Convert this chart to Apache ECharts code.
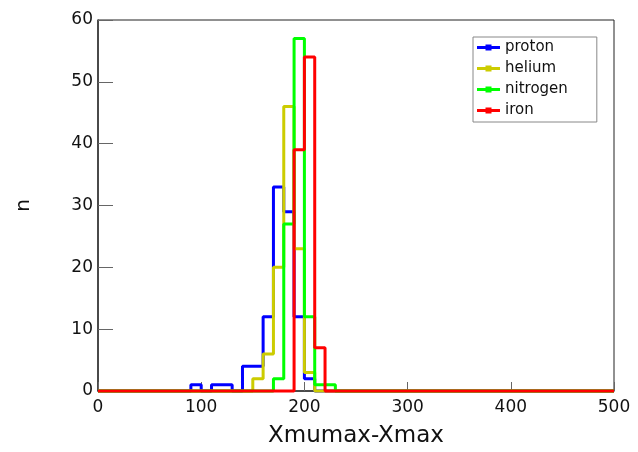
<!DOCTYPE html>
<html>
<head>
<meta charset="utf-8">
<style>
  html, body { margin: 0; padding: 0; background: #fff; }
  #chart { width: 638px; height: 452px; }
</style>
<script src="https://cdn.jsdelivr.net/npm/echarts@6/dist/echarts.min.js"></script>
</head>
<body>
<div id="chart"></div>
<script>
// Histogram binning: 50 bins of width 10 over [0, 500)
const binStart = 0;
const binWidth = 10;

// Entries per bin for each primary
const proton = [
  0, 0, 0, 0, 0, 0, 0, 0, 0, 1,
  0, 1, 1, 0, 4, 4, 12, 33, 29, 12,
  2, 0, 0, 0, 0, 0, 0, 0, 0, 0,
  0, 0, 0, 0, 0, 0, 0, 0, 0, 0,
  0, 0, 0, 0, 0, 0, 0, 0, 0, 0
];
const helium = [
  0, 0, 0, 0, 0, 0, 0, 0, 0, 0,
  0, 0, 0, 0, 0, 2, 6, 20, 46, 23,
  3, 0, 0, 0, 0, 0, 0, 0, 0, 0,
  0, 0, 0, 0, 0, 0, 0, 0, 0, 0,
  0, 0, 0, 0, 0, 0, 0, 0, 0, 0
];
const nitrogen = [
  0, 0, 0, 0, 0, 0, 0, 0, 0, 0,
  0, 0, 0, 0, 0, 0, 0, 2, 27, 57,
  12, 1, 1, 0, 0, 0, 0, 0, 0, 0,
  0, 0, 0, 0, 0, 0, 0, 0, 0, 0,
  0, 0, 0, 0, 0, 0, 0, 0, 0, 0
];
const iron = [
  0, 0, 0, 0, 0, 0, 0, 0, 0, 0,
  0, 0, 0, 0, 0, 0, 0, 0, 0, 39,
  54, 7, 0, 0, 0, 0, 0, 0, 0, 0,
  0, 0, 0, 0, 0, 0, 0, 0, 0, 0,
  0, 0, 0, 0, 0, 0, 0, 0, 0, 0
];

const seriesNames = ['proton', 'helium', 'nitrogen', 'iron'];
const seriesColors = ['#0000ff', '#cccc00', '#00ff00', '#ff0000'];
const xTicks = [0, 100, 200, 300, 400, 500];
const yTicks = [0, 10, 20, 30, 40, 50, 60];

// Turn bin contents into step-line vertices at the bin edges
function histPoints(counts) {
  const pts = counts.map((c, i) => [binStart + i * binWidth, c]);
  pts.push([binStart + counts.length * binWidth, counts[counts.length - 1]]);
  return pts;
}

const font = 'DejaVu Sans';
const legendIcon = 'path://M0,2.5 H23 V5.5 H0 Z M8.5,1 H14.5 V7 H8.5 Z';

const chart = echarts.init(document.getElementById('chart'), null, { renderer: 'canvas' });

chart.setOption({
  animation: false,
  backgroundColor: '#ffffff',
  grid: {
    left: 98, right: 24, top: 20, bottom: 61,
    outerBoundsMode: 'none',
    show: true, borderColor: '#222', borderWidth: 1, backgroundColor: 'transparent'
  },
  legend: {
    data: seriesNames.map((n) => ({ name: n, icon: legendIcon })),
    orient: 'vertical',
    left: 473, top: 37,
    itemWidth: 23, itemHeight: 8,
    itemGap: 6,
    padding: [3, 29, 4, 4],
    borderColor: '#888', borderWidth: 1,
    backgroundColor: '#fff',
    textStyle: { fontFamily: font, fontSize: 15, color: '#111', lineHeight: 15 }
  },
  xAxis: {
    type: 'value',
    min: xTicks[0], max: xTicks[xTicks.length - 1], interval: 100,
    name: 'Xmumax-Xmax', nameLocation: 'middle', nameGap: 34,
    nameTextStyle: { fontFamily: font, fontSize: 23, color: '#111' },
    axisLine: { show: true, lineStyle: { color: '#333', width: 1.5 } },
    axisTick: { show: true, inside: true, length: 9, lineStyle: { color: '#666', width: 1 } },
    axisLabel: { fontFamily: font, fontSize: 17, color: '#111', margin: 8 },
    splitLine: { show: false }
  },
  yAxis: {
    type: 'value',
    min: yTicks[0], max: yTicks[yTicks.length - 1], interval: 10,
    name: 'n', nameLocation: 'middle', nameGap: 64, nameRotate: 90,
    nameTextStyle: { fontFamily: font, fontSize: 20, color: '#111' },
    axisLine: { show: true, lineStyle: { color: '#333', width: 1.5 } },
    axisTick: { show: true, inside: true, length: 15, lineStyle: { color: '#666', width: 1 } },
    axisLabel: { fontFamily: font, fontSize: 17, color: '#111', margin: 5 },
    splitLine: { show: false }
  },
  series: [proton, helium, nitrogen, iron].map((counts, k) => ({
    name: seriesNames[k],
    type: 'line',
    step: 'end',
    data: histPoints(counts),
    showSymbol: false,
    symbol: 'rect',
    clip: false,
    color: seriesColors[k],
    lineStyle: { color: seriesColors[k], width: 3 },
    itemStyle: { color: seriesColors[k] },
    emphasis: { disabled: true }
  }))
});
</script>
</body>
</html>
